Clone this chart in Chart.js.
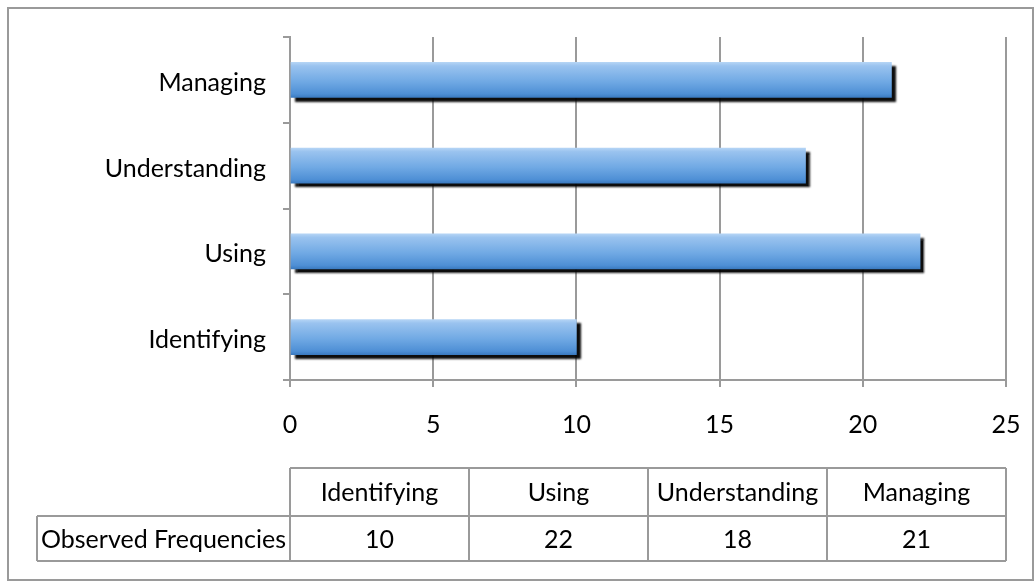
<!DOCTYPE html>
<html>
<head>
<meta charset="utf-8">
<script src="https://cdn.jsdelivr.net/npm/chart.js@4"></script>
<style>
  html, body { margin: 0; padding: 0; background: #ffffff; }
  #wrap { width: 1036px; height: 583px; position: relative; }
  canvas { display: block; }
</style>
</head>
<body>
<div id="wrap"><canvas id="chart" width="1036" height="583"></canvas></div>
<script>
// Skill areas (table order, left to right; bottom to top in the chart)
const categories = ['Identifying', 'Using', 'Understanding', 'Managing'];
// Observed frequency per skill area
const observed = [10, 22, 18, 21];
// Row caption of the data table under the chart
const rowLabel = 'Observed Frequencies';
// Value axis range
const axisMin = 0;
const axisMax = 25;
const axisStep = 5;

const FONT = 'Lato, "Open Sans", "DejaVu Sans", sans-serif';
const FONT_SIZE = 25;
const LINE = '#9a9a9a';
const BAR_THICK = 35;

// Vertical blue gradient for each bar, lighter at the top edge
function barGradient(c) {
  const chart = c.chart;
  const ys = chart.scales && chart.scales.y;
  if (!ys || c.type !== 'data') return '#6aa6e3';
  const cy = ys.getPixelForValue(c.dataIndex);
  if (!isFinite(cy)) return '#6aa6e3';
  const top = cy - BAR_THICK / 2, bottom = cy + BAR_THICK / 2;
  const g = chart.ctx.createLinearGradient(0, top, 0, bottom);
  g.addColorStop(0.00, '#b4d4f5');
  g.addColorStop(0.10, '#9ac3ef');
  g.addColorStop(0.55, '#70a9e4');
  g.addColorStop(0.90, '#4e8fd5');
  g.addColorStop(1.00, '#3b7bc1');
  return g;
}

// Drop shadow under the bars
const barShadow = {
  id: 'barShadow',
  beforeDatasetsDraw(chart) {
    const ctx = chart.ctx;
    ctx.save();
    ctx.shadowColor = 'rgba(0,0,0,0.95)';
    ctx.shadowBlur = 2;
    ctx.shadowOffsetX = 4;
    ctx.shadowOffsetY = 4;
  },
  afterDatasetsDraw(chart) {
    chart.ctx.restore();
  }
};

// Data table under the value axis, plus the outer frame
const dataTable = {
  id: 'dataTable',
  afterDraw(chart) {
    const ctx = chart.ctx;
    const area = chart.chartArea;
    const colW = (area.right - area.left) / categories.length;
    const headTop = 468, rowMid = 516, rowBottom = 561;
    const labelLeft = 37;

    ctx.save();
    ctx.strokeStyle = LINE;
    ctx.lineWidth = 2;

    ctx.beginPath();
    // header row
    ctx.moveTo(area.left, headTop); ctx.lineTo(area.right, headTop);
    // line between header and data row
    ctx.moveTo(labelLeft, rowMid); ctx.lineTo(area.right, rowMid);
    // bottom line
    ctx.moveTo(labelLeft, rowBottom); ctx.lineTo(area.right, rowBottom);
    // left edge of the caption cell
    ctx.moveTo(labelLeft, rowMid); ctx.lineTo(labelLeft, rowBottom);
    // column separators
    for (let i = 0; i <= categories.length; i++) {
      const x = area.left + i * colW;
      ctx.moveTo(x, headTop); ctx.lineTo(x, rowBottom);
    }
    ctx.stroke();

    ctx.fillStyle = '#000000';
    ctx.font = FONT_SIZE + 'px ' + FONT;
    ctx.textBaseline = 'middle';
    ctx.textAlign = 'center';
    categories.forEach((name, i) => {
      const cx = area.left + (i + 0.5) * colW;
      ctx.fillText(name, cx, (headTop + rowMid) / 2 + 1);
      ctx.fillText(String(observed[i]), cx, (rowMid + rowBottom) / 2 + 1);
    });
    ctx.textAlign = 'left';
    ctx.fillText(rowLabel, labelLeft + 4, (rowMid + rowBottom) / 2 + 1);

    // outer frame
    ctx.strokeStyle = LINE;
    ctx.lineWidth = 2;
    ctx.strokeRect(8, 8, 1025, 572);
    ctx.restore();
  }
};

new Chart(document.getElementById('chart'), {
  type: 'bar',
  data: {
    labels: categories,
    datasets: [{
      label: rowLabel,
      data: observed,
      backgroundColor: barGradient,
      borderWidth: 0,
      barThickness: BAR_THICK
    }]
  },
  options: {
    indexAxis: 'y',
    responsive: false,
    animation: false,
    devicePixelRatio: 1,
    layout: { padding: { left: 0, right: 30, top: 37, bottom: 0 } },
    plugins: {
      legend: { display: false },
      tooltip: { enabled: false },
      title: { display: false }
    },
    scales: {
      x: {
        type: 'linear',
        min: axisMin,
        max: axisMax,
        ticks: {
          stepSize: axisStep,
          color: '#000000',
          font: { family: FONT, size: FONT_SIZE },
          padding: 23
        },
        grid: { color: LINE, lineWidth: 2, tickLength: 7 },
        border: { color: LINE, width: 2 },
        afterFit(scale) {
          scale.height = 203;
          scale.paddingLeft = 0;
          scale.paddingRight = 0;
        }
      },
      y: {
        type: 'category',
        reverse: true,
        offset: true,
        ticks: {
          color: '#000000',
          font: { family: FONT, size: FONT_SIZE },
          padding: 17,
          labelOffset: 3
        },
        grid: { offset: true, drawOnChartArea: false, color: LINE, lineWidth: 2, tickLength: 7 },
        border: { color: LINE, width: 2 },
        afterFit(scale) {
          scale.width = 290;
          scale.paddingTop = 0;
          scale.paddingBottom = 0;
        }
      }
    }
  },
  plugins: [barShadow, dataTable]
});
</script>
</body>
</html>
